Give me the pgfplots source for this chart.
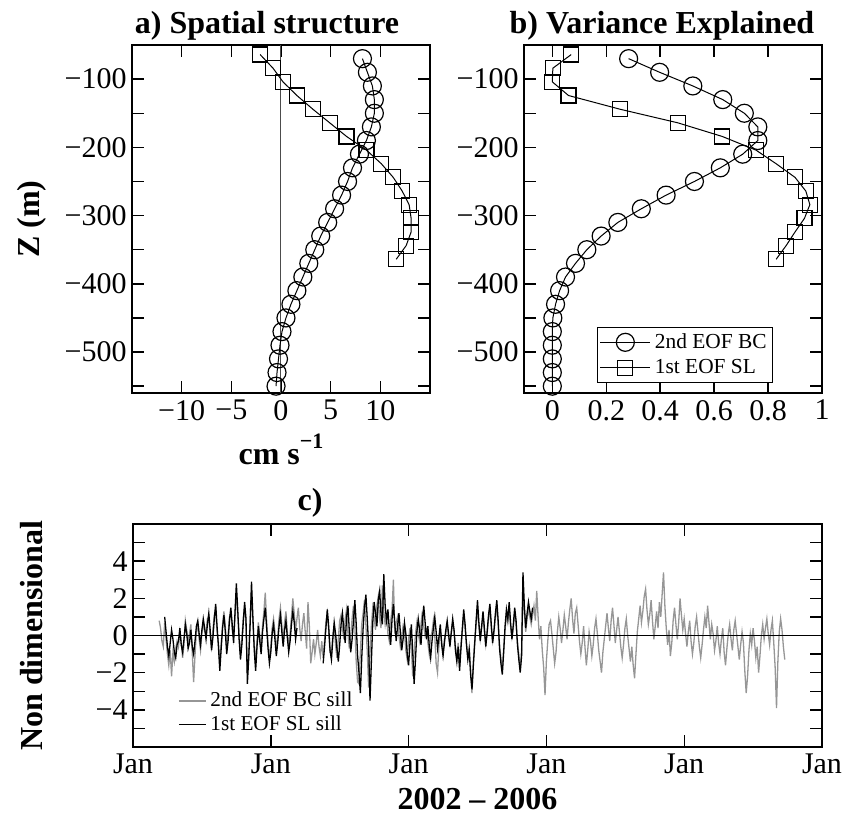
\documentclass[border=0pt]{standalone}
\usepackage{fontspec}
\setmainfont{Liberation Serif}
\usepackage{pgfplots}
\pgfplotsset{compat=1.18}
\definecolor{sillgray}{RGB}{150,150,150}

\pgfplotsset{
  eof/.style={
    scale only axis,
    axis line style={line width=1pt},
    every tick/.style={black, line width=0.7pt},
    major tick length=6pt,
    minor tick length=6pt,
    tick align=inside,
    tick label style={font=\fontsize{15}{15}\selectfont},
    yticklabel style={inner xsep=2.5pt},
    label style={font=\fontsize{16}{18}\selectfont\bfseries},
    title style={font=\fontsize{16}{18}\selectfont\bfseries, anchor=base, inner sep=0pt},
  },
  profile/.style={black, line width=0.5pt, mark options={solid, line width=0.6pt}},
  markleg/.style={legend image code/.code={
    \draw[mark repeat=2, mark phase=2, ##1] plot coordinates {(0pt,0pt) (12.5pt,0pt) (25pt,0pt)};}},
}

\begin{document}
\begin{tikzpicture}
\path[use as bounding box] (0,0) rectangle (424pt,-407.5pt);

% a) spatial structure
\begin{axis}[eof, at={(66pt,-196.5pt)}, anchor=south west,
  width=149pt, height=174pt,
  xmin=-15, xmax=15, ymin=-560, ymax=-50,
  xtick={-10,-5,0,5,10}, xticklabels={−10,−5,0,5,10},
  ytick={-500,-400,-300,-200,-100}, yticklabels={−500,−400,−300,−200,−100},
  minor ytick={-550,-450,-350,-250,-150},
  xlabel={cm s\raisebox{0.5em}{\fontsize{11}{11}\selectfont −1}},
  ylabel={Z (m)},
  ylabel style={at={(axis description cs:-0.336,0.5)}, anchor=center},
  title={a) Spatial structure},
  title style={at={(0.453,1)}},
]
\addplot[black!70, line width=0.5pt] coordinates {(0,-560) (0,-50)};
\addplot[profile, mark=o, mark size=4.5pt] coordinates {
  (8.2,-70) (8.7,-90) (9.2,-110) (9.4,-130) (9.4,-150) (9.1,-170) (8.6,-190)
  (7.9,-210) (7.2,-230) (6.7,-250) (6.1,-270) (5.4,-290) (4.7,-310) (4.0,-330)
  (3.4,-350) (2.8,-370) (2.2,-390) (1.6,-410) (1.0,-430) (0.5,-450) (0.1,-470)
  (-0.1,-490) (-0.25,-510) (-0.4,-530) (-0.5,-550)};
\addplot[profile, mark=square, mark size=3.75pt] coordinates {
  (-2.1,-64) (-0.8,-84) (0.2,-104) (1.6,-124) (3.2,-144) (4.9,-164) (6.6,-184)
  (8.6,-204) (10.1,-224) (11.3,-244) (12.2,-264) (12.9,-284) (13.1,-304)
  (13.1,-324) (12.6,-344) (11.6,-364)};
\end{axis}

% b) variance explained
\begin{axis}[eof, at={(262pt,-196.5pt)}, anchor=south west,
  width=149pt, height=174pt,
  xmin=-0.105, xmax=1, ymin=-560, ymax=-50,
  xtick={0,0.2,0.4,0.6,0.8,1}, xticklabels={0,0.2,0.4,0.6,0.8,1},
  ytick={-500,-400,-300,-200,-100}, yticklabels={−500,−400,−300,−200,−100},
  minor ytick={-550,-450,-350,-250,-150},
  title={b) Variance Explained},
  title style={at={(0.463,1)}},
  markleg,
  legend style={draw=black, line width=0.5pt, at={(0.836,0.029)}, anchor=south east,
    font=\fontsize{10.7}{12}\selectfont, inner sep=1pt, row sep=0pt},
  legend cell align=left,
]
\addplot[profile, mark=o, mark size=4.5pt] coordinates {
  (0.283,-70) (0.398,-90) (0.521,-110) (0.632,-130) (0.712,-150) (0.762,-170)
  (0.762,-190) (0.706,-210) (0.623,-230) (0.527,-250) (0.422,-270) (0.330,-290)
  (0.243,-310) (0.181,-330) (0.128,-350) (0.086,-370) (0.049,-390) (0.027,-410)
  (0.012,-430) (0.002,-450) (0,-470) (0,-490) (0,-510) (0,-530) (0,-550)};
\addlegendentry{2nd EOF BC}
\addplot[profile, mark=square, mark size=3.75pt] coordinates {
  (0.07,-64) (0.002,-84) (0,-104) (0.06,-124) (0.25,-144) (0.465,-164) (0.63,-184)
  (0.755,-204) (0.83,-224) (0.9,-244) (0.94,-264) (0.955,-284) (0.935,-304)
  (0.9,-324) (0.867,-344) (0.83,-364)};
\addlegendentry{1st EOF SL}
\end{axis}

% c) time series of the modes
\begin{axis}[eof, at={(66.5pt,-373.5pt)}, anchor=south west,
  width=344.5pt, height=111.5pt,
  xmin=2002, xmax=2007, ymin=-6, ymax=6,
  xtick={2002,2003,2004,2005,2006,2007}, xticklabels={Jan,Jan,Jan,Jan,Jan,Jan},
  ytick={-4,-2,0,2,4}, yticklabels={−4,−2,0,2,4},
  minor ytick={-5,-3,-1,1,3,5},
  xlabel={2002 – 2006},
  ylabel={Non dimensional},
  ylabel style={at={(axis description cs:-0.147,0.5)}, anchor=center},
  title={c)},
  title style={at={(0.257,1)}, yshift=1pt},
  unbounded coords=jump,
  legend image code/.code={\draw[#1] (0pt,0pt) -- (13.5pt,0pt);},
  legend style={draw=none, fill=none, at={(0.065,0.04)}, anchor=south west,
    font=\fontsize{10.6}{11}\selectfont, inner sep=0pt, row sep=-1pt},
  legend cell align=left,
]
\addplot[sillgray, line width=0.65pt] table[row sep=\\, header=false,
  x expr={2002.19+0.01*\coordindex}, y index=0] {
0.8\\0.4\\-0.3\\-0.6\\
0.7\\-0.2\\-1.0\\-1.6\\-0.8\\-2.2\\-0.9\\-1.4\\-0.7\\-0.3\\
-0.6\\0.2\\-0.3\\-1.2\\-0.5\\0.8\\0.3\\-0.4\\0.1\\0.6\\
-0.9\\-2.5\\-1.1\\0.2\\0.6\\-0.2\\-0.8\\0.1\\0.7\\0.2\\
0.1\\0.9\\1.0\\0.0\\-0.6\\0.3\\1.1\\1.4\\0.2\\-0.4\\
-1.5\\-0.4\\0.6\\1.3\\0.5\\-0.6\\0.0\\1.0\\1.2\\0.3\\
-0.2\\1.0\\2.3\\1.1\\0.1\\-1.0\\-0.2\\0.9\\1.5\\0.6\\
-2.0\\-0.9\\0.8\\2.4\\0.7\\-0.5\\-1.5\\-0.3\\0.7\\0.0\\
-0.7\\0.5\\1.3\\2.3\\0.8\\-0.4\\-1.2\\-0.6\\0.4\\0.9\\
0.2\\-0.8\\-0.1\\0.9\\1.5\\0.6\\-0.3\\0.7\\1.3\\0.2\\
-0.6\\0.1\\1.0\\2.0\\1.2\\0.3\\0.9\\1.5\\0.4\\-0.3\\
0.6\\1.2\\0.2\\-0.7\\1.8\\0.5\\-1.5\\-0.9\\-0.2\\-1.0\\
-0.4\\0.3\\-0.6\\-1.1\\-0.3\\-1.2\\-0.3\\0.7\\1.2\\0.3\\
-0.9\\-1.0\\0.0\\0.5\\-0.5\\-1.2\\-0.2\\0.8\\1.1\\0.4\\
-0.2\\0.9\\1.4\\0.1\\-0.7\\0.0\\0.9\\1.6\\0.5\\-1.4\\
-2.5\\-2.6\\-0.9\\0.6\\1.2\\1.9\\0.6\\-0.8\\-2.8\\-1.0\\
0.5\\1.5\\1.0\\0.3\\1.6\\2.1\\0.9\\0.4\\2.7\\1.3\\
0.6\\1.2\\0.1\\-0.3\\0.8\\1.4\\3.0\\0.1\\0.7\\1.0\\
0.0\\-0.6\\-0.1\\0.5\\0.2\\-0.8\\-1.3\\-0.2\\0.4\\-0.6\\
-2.2\\-1.0\\0.1\\0.7\\0.1\\-0.3\\0.6\\1.3\\0.5\\0.0\\
0.3\\-0.4\\-1.0\\-0.1\\0.2\\0.8\\0.0\\-1.5\\-2.0\\-0.6\\
0.4\\-0.3\\-0.9\\-0.2\\0.1\\0.6\\-0.1\\-0.5\\0.1\\0.7\\
0.2\\-0.6\\-1.2\\-0.4\\-1.6\\-0.5\\0.2\\1.1\\0.4\\-0.4\\
-1.1\\-0.6\\-1.8\\-3.1\\-1.4\\-0.3\\0.6\\1.5\\0.5\\-0.2\\
0.4\\1.0\\0.2\\-0.5\\0.1\\0.9\\1.4\\0.4\\-0.3\\0.2\\
1.0\\1.5\\0.6\\-0.5\\-1.2\\-1.8\\-0.7\\0.3\\1.1\\0.7\\
1.4\\0.5\\-0.1\\0.4\\1.2\\0.6\\-0.3\\-1.0\\-1.7\\-0.9\\
2.6\\1.2\\0.2\\0.9\\1.4\\1.0\\0.6\\1.1\\1.6\\0.8\\
2.4\\1.0\\-0.2\\0.5\\-0.8\\-1.7\\-3.2\\-1.4\\-0.3\\0.6\\
0.8\\0.1\\-0.7\\-1.5\\-0.9\\0.2\\1.0\\0.4\\-0.4\\0.3\\
1.1\\0.5\\-0.2\\0.7\\1.4\\2.0\\0.9\\0.1\\1.2\\1.5\\
0.6\\-0.3\\-1.0\\-0.4\\0.5\\-0.6\\-1.6\\-0.8\\0.2\\-0.3\\
-1.1\\-0.5\\0.4\\0.9\\0.1\\-0.8\\-1.4\\-2.0\\-0.9\\-0.2\\
0.5\\1.2\\0.4\\-0.3\\0.8\\1.5\\0.6\\-0.4\\0.3\\1.0\\
0.2\\-0.6\\-1.2\\-0.5\\0.4\\0.9\\0.0\\-0.7\\-1.4\\-0.6\\
-1.6\\-2.3\\-1.0\\0.2\\0.9\\1.6\\0.7\\1.3\\2.1\\2.5\\
1.4\\0.6\\1.1\\1.9\\0.8\\-0.2\\0.5\\1.3\\0.4\\1.8\\
1.0\\2.2\\3.4\\1.6\\0.4\\-0.5\\0.3\\-1.1\\-0.4\\0.8\\
1.5\\0.6\\-0.2\\0.7\\2.0\\1.1\\0.3\\0.9\\0.1\\-0.6\\
0.2\\0.8\\-0.3\\-1.0\\-0.4\\0.5\\1.0\\0.2\\-0.6\\-1.2\\
-0.5\\0.3\\1.0\\0.4\\1.6\\0.7\\-0.2\\0.6\\0.1\\-0.8\\
-0.3\\0.5\\-0.4\\-1.0\\-0.2\\0.4\\-0.9\\-1.6\\-0.7\\0.1\\
0.6\\-0.2\\-0.8\\0.3\\0.8\\0.1\\-0.6\\-1.3\\-0.5\\0.2\\
-0.4\\-1.9\\-3.1\\-2.2\\-0.8\\0.1\\-0.5\\0.4\\-0.3\\-1.2\\
-0.6\\-2.0\\-1.1\\0.0\\0.6\\-0.2\\0.4\\0.9\\0.1\\-0.5\\
0.3\\0.8\\-0.4\\-1.7\\-3.9\\-1.4\\0.2\\0.9\\0.3\\-0.6\\
-1.3\\
};
\addlegendentry{2nd EOF BC sill}
\addplot[black, line width=0.65pt] table[row sep=\\, header=false,
  x expr={2002.23+0.01*\coordindex}, y index=0] {
1.0\\0.2\\-0.6\\-1.1\\-0.4\\0.3\\-0.2\\-0.9\\-1.2\\-0.5\\
-0.3\\0.4\\-0.5\\-0.9\\-0.2\\0.6\\0.1\\-0.7\\-0.4\\0.3\\
-0.6\\-1.0\\-0.3\\0.5\\0.8\\0.1\\-0.5\\0.3\\0.9\\0.4\\
-0.2\\0.6\\1.2\\0.3\\-0.8\\-0.1\\0.9\\1.7\\0.5\\-0.6\\
-1.9\\-0.7\\0.4\\1.1\\0.2\\-1.0\\-0.3\\0.8\\1.5\\0.6\\
-0.4\\1.2\\2.8\\1.4\\-0.2\\-1.3\\-0.5\\0.7\\1.8\\0.9\\
-2.6\\-1.2\\0.6\\2.9\\1.0\\-0.8\\-1.9\\-0.6\\0.5\\-0.3\\
-1.0\\0.2\\0.9\\1.5\\0.4\\-0.7\\-1.5\\-0.9\\0.1\\0.6\\
-0.2\\-1.1\\-0.4\\0.5\\1.1\\0.2\\-0.6\\0.3\\0.8\\-0.1\\
-0.9\\-0.3\\0.6\\1.3\\0.7\\-0.2\\0.4\\
nan\\nan\\nan\\nan\\nan\\nan\\nan\\nan\\nan\\nan\\nan\\nan\\nan\\nan\\nan\\nan\\nan\\nan\\
-1.5\\-0.6\\0.4\\1.4\\0.5\\-0.8\\-1.3\\-0.2\\0.7\\0.1\\
-0.7\\-1.4\\-0.5\\0.6\\1.2\\0.3\\-0.4\\1.0\\1.6\\0.2\\
-0.9\\-0.2\\0.8\\1.9\\0.6\\-1.1\\-2.0\\-3.1\\-1.2\\0.4\\
1.5\\2.2\\0.9\\-0.6\\-3.5\\-1.4\\0.7\\1.8\\1.2\\0.5\\
1.9\\2.4\\1.1\\0.6\\3.3\\1.6\\0.8\\1.4\\0.3\\-0.5\\
0.9\\1.7\\0.6\\-0.3\\0.5\\1.2\\0.2\\-0.8\\-0.2\\0.7\\
0.1\\-1.0\\-1.6\\-0.4\\0.6\\-0.9\\-2.6\\-1.3\\0.2\\0.9\\
0.3\\-0.5\\0.8\\1.6\\0.7\\-0.2\\0.5\\-0.6\\-1.2\\-0.3\\
0.4\\1.0\\0.2\\-0.7\\-0.1\\0.6\\-0.5\\-1.1\\-0.4\\0.3\\
0.8\\0.1\\-0.6\\0.2\\0.9\\0.3\\-0.8\\-1.4\\-0.6\\-1.9\\
-0.7\\0.4\\1.4\\0.6\\-0.5\\-1.3\\-0.8\\-2.1\\-2.9\\-1.6\\
-0.4\\0.8\\1.9\\0.7\\-0.3\\0.5\\1.3\\0.4\\-0.6\\0.2\\
1.1\\1.7\\0.6\\-0.4\\0.3\\1.2\\1.9\\0.8\\-0.7\\-1.5\\
-2.1\\-0.9\\0.5\\1.4\\0.9\\1.8\\0.7\\-0.2\\0.6\\1.5\\
0.8\\-0.5\\-1.3\\-2.0\\-1.1\\3.4\\1.6\\0.4\\1.2\\1.8\\
1.3\\0.9\\1.5\\
};
\addlegendentry{1st EOF SL sill}
\addplot[black, line width=0.6pt, forget plot] coordinates {(2002,0) (2007,0)};
\end{axis}
\end{tikzpicture}
\end{document}
